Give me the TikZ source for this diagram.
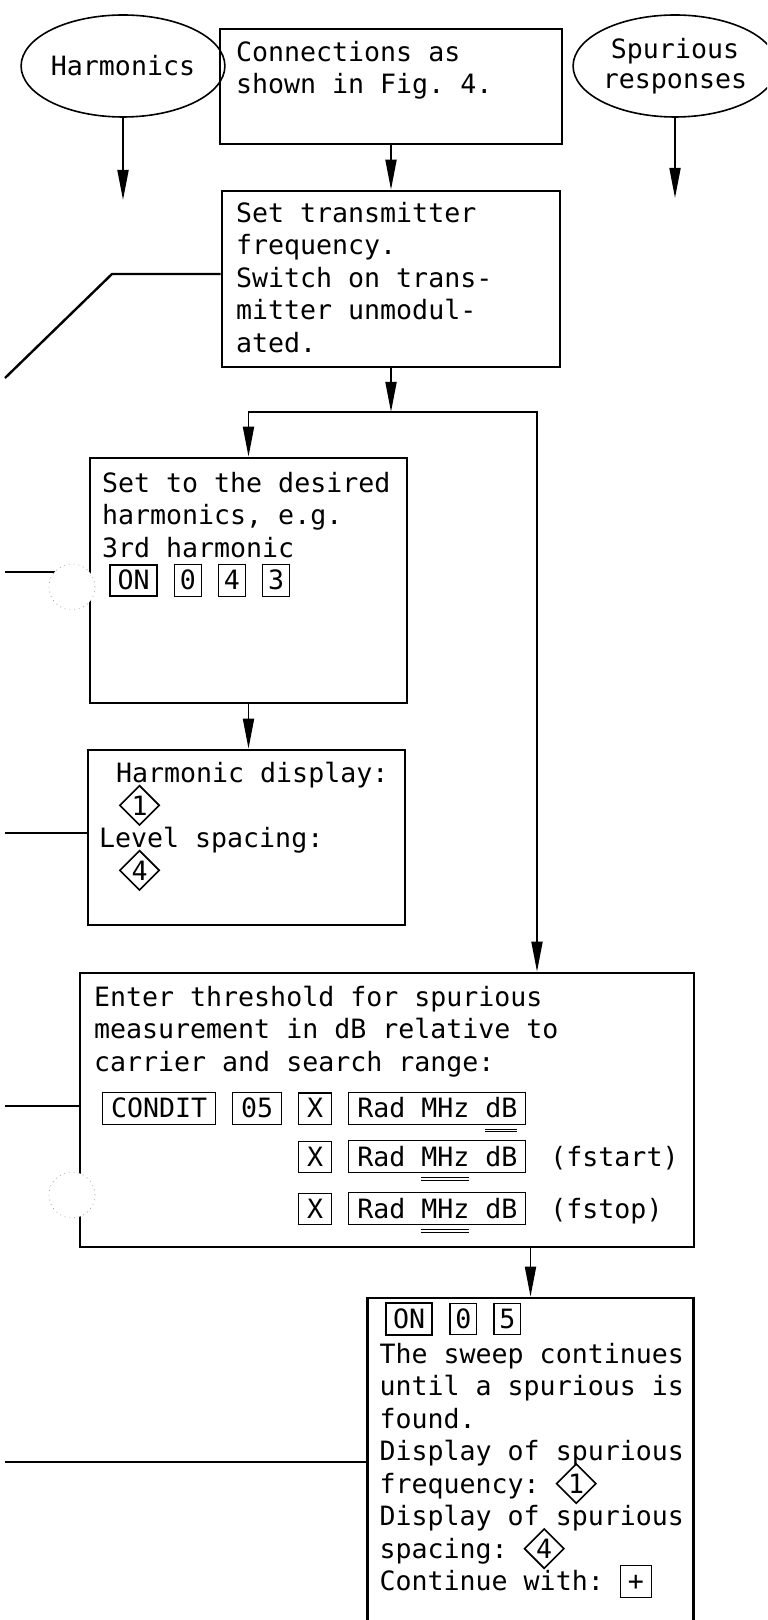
\documentclass[tikz,border=0pt]{standalone}
\usepackage{fontspec}
\setmonofont{DejaVu Sans Mono}
\usetikzlibrary{shapes.geometric,arrows.meta,positioning,calc}

\newcommand{\keycap}[2][0pt]{{\setlength{\fboxsep}{2.4pt}\setlength{\fboxrule}{0.6pt}\fbox{\rule[-0.5pt]{0pt}{10.3pt}\hspace{#1}#2\hspace{#1}}}}
\newcommand{\keycapb}[1]{{\setlength{\fboxsep}{2.2pt}\setlength{\fboxrule}{1pt}\fbox{\rule[-0.5pt]{0pt}{10.3pt}\hspace{1pt}#1\hspace{1pt}}}}
\newcommand{\dia}[1]{\smash{\tikz[baseline={([yshift=-4.8pt]d.center)}]\node[draw,diamond,line width=0.8pt,minimum size=20pt,inner sep=0pt](d){#1};}}
\newcommand{\dul}[1]{\setbox0\hbox{#1}\rlap{\smash{\raisebox{-6pt}{\rule{\wd0}{0.5pt}}}}\rlap{\smash{\raisebox{-7.2pt}{\rule{\wd0}{0.5pt}}}}#1}

\begin{document}
\begin{tikzpicture}[x=0.5pt,y=-0.5pt,
  box/.style={draw,line width=1.3pt,inner sep=0pt},
  oval/.style={ellipse,draw,line width=0.8pt,minimum width=91pt,minimum height=51pt,inner sep=0pt,align=center,
    font=\fontsize{13.3pt}{15pt}\selectfont\ttfamily},
  txt/.style={inner sep=0pt,align=left,font=\fontsize{13.3pt}{16.25pt}\selectfont\ttfamily},
  flow/.style={line width=0.9pt,-{Triangle[length=15pt,width=5.5pt]}},
  wire/.style={line width=1.2pt},
  hole/.style={circle,draw=gray!70,dotted,fill=white,minimum size=23pt,inner sep=0pt}]
  \useasboundingbox (0,0) rectangle (767,1620);
  \clip (0,0) rectangle (767,1620);

  \node[oval] (harmonics) at (123,66) {Harmonics};
  \node[oval] (spurious) at (675,66) {Spurious\\responses};
  \node[box,minimum width=171pt,minimum height=57.5pt] (conn) at (391,86.5) {};
  \node[box,minimum width=169pt,minimum height=88pt] (setfreq) at (391,279) {};
  \node[box,minimum width=158.5pt,minimum height=122.5pt] (harmsel) at (248.5,580.5) {};
  \node[box,minimum width=158.5pt,minimum height=87.5pt] (hdisp) at (246.5,837.5) {};
  \node[box,minimum width=307pt,minimum height=137pt] (thresh) at (387,1110) {};
  \node[box,minimum width=163pt,minimum height=181pt] (sweep) at (530.5,1479) {};

  \node[txt,below right=6.5pt and 8.5pt of conn.north west] (connT) {Connections as\\shown in Fig. 4.};
  \node[txt,below right=6pt and 7.5pt of setfreq.north west] (setfreqT)
    {Set transmitter\\frequency.\\Switch on trans-\\mitter unmodul-\\ated.};
  \node[txt,below right=7.5pt and 6.5pt of harmsel.north west] (harmselT)
    {Set to the desired\\harmonics, e.g.\\3rd harmonic\\\hspace*{3.5pt}\keycapb{ON} \keycap{0} \keycap{4} \keycap{3}};
  \node[txt,below right=6.5pt and 6pt of hdisp.north west] (hdispT)
    {\hspace*{8.5pt}Harmonic display:\\\hspace*{10pt}\dia{1}\\Level spacing:\\\hspace*{10pt}\dia{4}};
  \node[txt,below right=7pt and 7.5pt of thresh.north west] (threshT)
    {Enter threshold for spurious\\measurement in dB relative to\\carrier and search range:\\[7pt]
     \hspace*{4pt}\keycap[1.5pt]{CONDIT} \keycap[1.5pt]{05} \keycap[1.5pt]{X} \keycap[1.5pt]{Rad MHz \dul{dB}}\\[6.5pt]
     \hspace*{4pt}\phantom{\keycap[1.5pt]{CONDIT} \keycap[1.5pt]{05} }\keycap[1.5pt]{X} \keycap[1.5pt]{Rad \dul{MHz} dB}\hspace{12pt}(fstart)\\[8.5pt]
     \hspace*{4pt}\phantom{\keycap[1.5pt]{CONDIT} \keycap[1.5pt]{05} }\keycap[1.5pt]{X} \keycap[1.5pt]{Rad \dul{MHz} dB}\hspace{12pt}(fstop)};
  \node[txt,below right=2.5pt and 6.5pt of sweep.north west] (sweepT)
    {\hspace*{2.5pt}\keycapb{ON} \keycap{0} \keycap{5}\\[1.25pt]The sweep continues\\until a spurious is\\found.\\
     Display of spurious\\frequency: \dia{1}\\Display of spurious\\spacing: \dia{4}\\Continue with: \keycap[1pt]{+}};

  \coordinate (harmEnd) at (123,200);
  \coordinate (spurEnd) at (675,198);
  \coordinate (split) at (391,412);
  \coordinate (rb) at (537,412);
  \draw[flow] (harmonics) -- (harmEnd);
  \draw[flow] (spurious) -- (spurEnd);
  \draw[flow] (conn) -- (setfreq);
  \draw[flow] (setfreq) -- (split);
  \draw[flow] (split) -| (harmsel.north);
  \draw[flow] (split) -- (rb) -- (rb |- thresh.north);
  \draw[flow] (harmsel.south) -- (harmsel.south |- hdisp.north);
  \draw[flow] (thresh.south -| sweep.north) -- (sweep.north);

  \coordinate (bend) at (112,274);
  \coordinate (out1) at (5,378);
  \coordinate (out2) at (5,572);
  \coordinate (out3) at (5,833);
  \coordinate (out4) at (5,1106);
  \coordinate (out5) at (5,1462);
  \draw[wire] (bend -| setfreq.west) -- (bend) -- (out1);
  \draw[wire] (out2) -- (out2 -| harmsel.west);
  \draw[wire] (out3) -- (out3 -| hdisp.west);
  \draw[wire] (out4) -- (out4 -| thresh.west);
  \draw[wire] (out5) -- (out5 -| sweep.west);

  \node[hole] (hole1) at (72,587) {};
  \node[hole] (hole2) at (72,1195) {};
\end{tikzpicture}
\end{document}
